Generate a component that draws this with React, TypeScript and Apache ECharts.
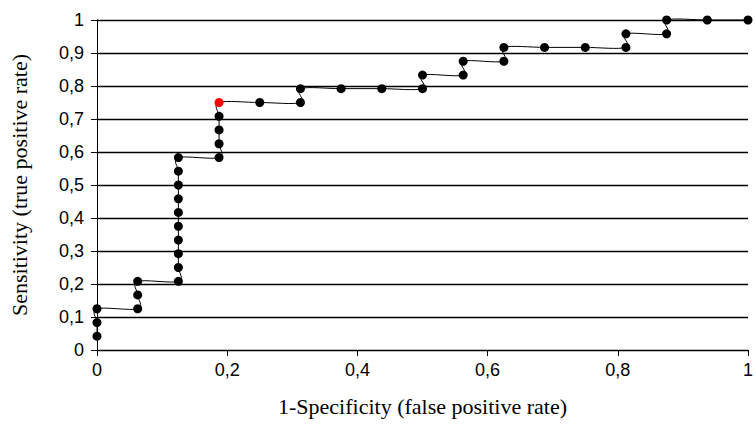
import React, { useEffect, useRef } from "react";
import * as echarts from "echarts";

// 1-Specificity (false positive rate)
const fpr: number[] = [
  0, 0, 0,
  0.0625, 0.0625, 0.0625,
  0.125, 0.125, 0.125, 0.125, 0.125, 0.125, 0.125, 0.125, 0.125, 0.125,
  0.1875, 0.1875, 0.1875, 0.1875, 0.1875,
  0.25,
  0.3125, 0.3125,
  0.375,
  0.4375,
  0.5, 0.5,
  0.5625, 0.5625,
  0.625, 0.625,
  0.6875,
  0.75,
  0.8125, 0.8125,
  0.875, 0.875,
  0.9375,
  1,
];

// Sensitivity (true positive rate)
const tpr: number[] = [
  0.042, 0.083, 0.125,
  0.125, 0.167, 0.208,
  0.208, 0.25, 0.292, 0.333, 0.375, 0.417, 0.458, 0.5, 0.542, 0.583,
  0.583, 0.625, 0.667, 0.708, 0.75,
  0.75,
  0.75, 0.792,
  0.792,
  0.792,
  0.792, 0.833,
  0.833, 0.875,
  0.875, 0.917,
  0.917,
  0.917,
  0.917, 0.958,
  0.958, 1,
  1,
  1,
];

const highlightIndex = 20; // red point (0.1875, 0.75)

const xTicks = [0, 0.2, 0.4, 0.6, 0.8, 1];
const yTicks = [0, 0.1, 0.2, 0.3, 0.4, 0.5, 0.6, 0.7, 0.8, 0.9, 1];

const xName = "1-Specificity (false positive rate)";
const yName = "Sensitivity (true positive rate)";

const fmt = (v: number) => String(Number(v.toFixed(2))).replace(".", ",");

export default function App() {
  const ref = useRef<HTMLDivElement>(null);

  useEffect(() => {
    if (!ref.current) return;
    const chart = echarts.init(ref.current, undefined, { renderer: "svg" });
    const pairs = fpr.map((x, i) => [x, tpr[i]]);
    const markers = pairs.map((p, i) =>
      i === highlightIndex
        ? { value: p, itemStyle: { color: "#ff0000", opacity: 1 } }
        : { value: p }
    );
    chart.setOption({
      animation: false,
      backgroundColor: "#ffffff",
      grid: { left: 96, right: 5, top: 20, bottom: 76, containLabel: false },
      xAxis: {
        type: "value",
        min: xTicks[0],
        max: xTicks[xTicks.length - 1],
        interval: 0.2,
        name: xName,
        nameLocation: "middle",
        nameGap: 45,
        nameTextStyle: {
          fontFamily: "Liberation Serif",
          fontSize: 22,
          color: "#000",
        },
        axisLine: { show: true, onZero: false, lineStyle: { color: "#000", width: 1 } },
        axisTick: { show: true, length: 6, lineStyle: { color: "#000" } },
        axisLabel: {
          formatter: (v: number) => fmt(v),
          fontFamily: "Liberation Sans",
          fontSize: 18,
          color: "#000",
          margin: 11,
        },
        splitLine: { show: false },
      },
      yAxis: {
        type: "value",
        min: yTicks[0],
        max: yTicks[yTicks.length - 1],
        interval: 0.1,
        name: yName,
        nameLocation: "middle",
        nameGap: 67,
        nameTextStyle: {
          fontFamily: "Liberation Serif",
          fontSize: 22,
          color: "#000",
        },
        axisLine: { show: true, onZero: false, lineStyle: { color: "#000", width: 1 } },
        axisTick: { show: true, length: 6, lineStyle: { color: "#000" } },
        axisLabel: {
          formatter: (v: number) => fmt(v),
          fontFamily: "Liberation Sans",
          fontSize: 18,
          color: "#000",
          margin: 13,
        },
        splitLine: { show: true, lineStyle: { color: "#000", width: 1.3 } },
      },
      series: [
        {
          type: "custom",
          data: pairs,
          encode: { x: 0, y: 1 },
          clip: false,
          z: 2,
          renderItem: (params: any, api: any) => {
            if (params.dataIndex !== 0) return null;
            const pts = pairs.map((p) => api.coord(p));
            const n = pts.length;
            let d = `M${pts[0][0]},${pts[0][1]}`;
            for (let i = 0; i < n - 1; i++) {
              const p0 = pts[i > 0 ? i - 1 : i];
              const p1 = pts[i];
              const p2 = pts[i + 1];
              const p3 = pts[i + 2 < n ? i + 2 : i + 1];
              const c1x = p1[0] + (p2[0] - p0[0]) / 6;
              const c1y = p1[1] + (p2[1] - p0[1]) / 6;
              const c2x = p2[0] - (p3[0] - p1[0]) / 6;
              const c2y = p2[1] - (p3[1] - p1[1]) / 6;
              d += ` C${c1x},${c1y} ${c2x},${c2y} ${p2[0]},${p2[1]}`;
            }
            return {
              type: "path",
              shape: { pathData: d },
              style: { stroke: "#000", fill: "none", lineWidth: 1 },
            };
          },
        },
        {
          type: "scatter",
          data: markers,
          symbol: "circle",
          symbolSize: 9,
          itemStyle: { color: "#000", opacity: 1 },
          clip: false,
          z: 3,
        },
      ],
    });
    return () => chart.dispose();
  }, []);

  return (
    <div
      ref={ref}
      style={{ position: "fixed", left: 0, top: 0, width: 756, height: 426 }}
    />
  );
}
